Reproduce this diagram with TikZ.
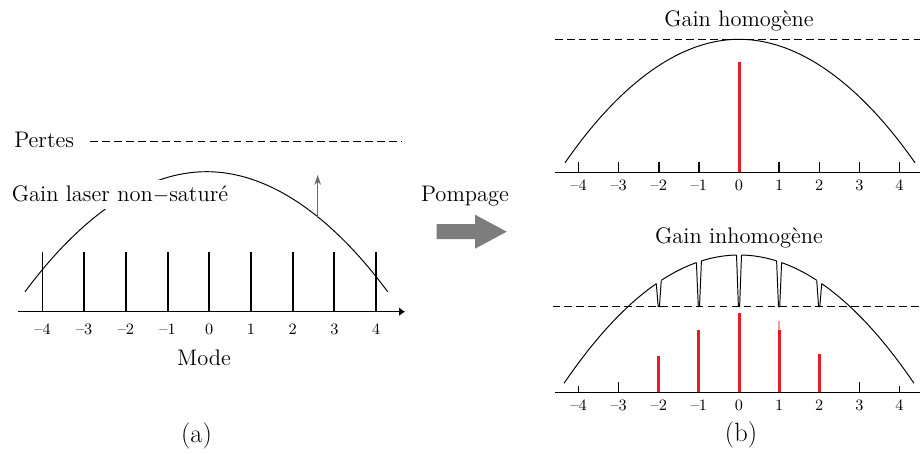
\documentclass[tikz,border=0pt]{standalone}
\usepackage{xcolor}
\definecolor{myred}  {RGB}{232, 28, 36}
\definecolor{mygray} {RGB}{125, 125, 125}
\usetikzlibrary{arrows.meta, positioning}

\tikzset{
	declare function={ginh(\x)=3.96-0.2095*(\x-14.78)^2;},
	gaincurve/.style={line width=0.55pt},
	lossline/.style={line width=0.55pt, dash pattern=on 4.3pt off 2.5pt},
	axisline/.style={line width=0.8pt},
	modeline/.style={line width=1.1pt},
	redmode/.style={myred, line width=1.7pt},
	ticklabel/.style={font=\fontsize{9}{11}\selectfont, anchor=base},
	panellabel/.style={font=\fontsize{15}{18}\selectfont, anchor=base}
}

\begin{document}
\begin{tikzpicture}[every node/.style={font=\fontsize{12.8}{15}\selectfont, align=center}]
		\useasboundingbox (0,0) rectangle (18.4,9.06);
		% (a) modes of the cavity, unsaturated gain
		\draw[axisline, -{Latex[length=3.3pt, width=5pt]}] (0.36,2.826) -- (8.1,2.826);
		\foreach \k/\t [count=\i] in {-4/–4, -3/–3, -2/–2, -1/–1, 0/0, 1/1, 2/2, 3/3, 4/4} {
			\draw[modeline] ({4.186+0.834*\k},2.826) -- ++(0,1.2);
			\node[ticklabel] (ma\i) at ({4.186+0.834*\k},2.38) {\t};
		}
		\node[anchor=base] (mode) at (4.08,1.76) {Mode};
		\draw[gaincurve] (0.5,3.226) parabola bend (4.134,5.626) (7.754,3.226);
		\node[anchor=base, fill=white] (gainns) at (2.4,5.026) {Gain laser non$-$saturé};
		\node[anchor=base] (pertes) at (0.884,6.114) {Pertes};
		\coordinate (pertesend) at (8.034,6.226);
		\draw[lossline] ([xshift=0.2cm]pertes.east |- pertesend) -- (pertesend);
		\coordinate (pumpfoot) at (6.354,4.7);
		\coordinate (pumptop) at (6.354,5.56);
		\draw[black!60, line width=0.9pt, -{Stealth[length=5.5pt, width=3.6pt]}] (pumpfoot) -- (pumptop);
		\node[panellabel] (a) at (3.93,0.21) {(a)};

		% pumping
		\node[anchor=base] (pompage) at (9.3,5.026) {Pompage};
		\fill[mygray] (8.734,4.276) -- (9.5,4.276) -- (9.5,4.086) -- (10.134,4.426)
			-- (9.5,4.766) -- (9.5,4.576) -- (8.734,4.576) -- cycle;

		% (b) homogeneous gain
		\node[anchor=base] (ghom) at (14.78,8.526) {Gain homogène};
		\draw[lossline] (11.1,8.274) -- (18.4,8.274);
		\draw[gaincurve] (11.3,5.806) parabola bend (14.78,8.274) (18.3,5.806);
		\draw[axisline] (11.1,5.614) -- (18.4,5.614);
		\foreach \k/\t [count=\i] in {-4/–4, -3/–3, -2/–2, -1/–1, 0/0, 1/1, 2/2, 3/3, 4/4} {
			\draw[axisline] ({14.78+0.802*\k},5.614) -- ++(0,0.2);
			\node[ticklabel] (mh\i) at ({14.78+0.802*\k},5.246) {\t};
		}
		\draw[redmode] (14.78,5.614) -- (14.78,7.826);

		% (b) inhomogeneous gain, spectral hole burning
		\node[anchor=base] (ginh) at (14.78,4.194) {Gain inhomogène};
		\draw[lossline] (11.05,2.926) -- (18.4,2.926);
		\foreach \a/\b in {11.28/13.126, 13.226/13.928, 14.028/14.73, 14.83/15.532, 15.632/16.334, 16.434/18.28}
			\draw[gaincurve] plot[domain=\a:\b, samples=30] (\x,{ginh(\x)});
		\foreach \k in {-2,...,2} {
			\pgfmathsetmacro{\xm}{14.78+0.802*\k}
			\draw[gaincurve] ({\xm-0.05},{ginh(\xm-0.05)}) -- ({\xm-0.012},2.926)
				-- ({\xm+0.012},2.926) -- ({\xm+0.05},{ginh(\xm+0.05)});
		}
		\draw[axisline] (11.1,1.214) -- (18.4,1.214);
		\foreach \k/\h in {-4/0.12, -3/0.2, 3/0.2, 4/0.12}
			\draw[axisline] ({14.78+0.802*\k},1.214) -- ++(0,\h);
		\foreach \k/\t [count=\i] in {-4/–4, -3/–3, -2/–2, -1/–1, 0/0, 1/1, 2/2, 3/3, 4/4}
			\node[ticklabel] (mi\i) at ({14.78+0.802*\k},0.846) {\t};
		\draw[myred!45, line width=1pt] (15.582,2.46) -- (15.582,2.646);
		\foreach \k/\h in {-2/1.94, -1/2.46, 0/2.794, 1/2.46, 2/1.974}
			\draw[redmode] ({14.78+0.802*\k},1.214) -- ({14.78+0.802*\k},\h);
		\node[panellabel] (b) at (14.82,0.23) {(b)};
	\end{tikzpicture}
\end{document}
